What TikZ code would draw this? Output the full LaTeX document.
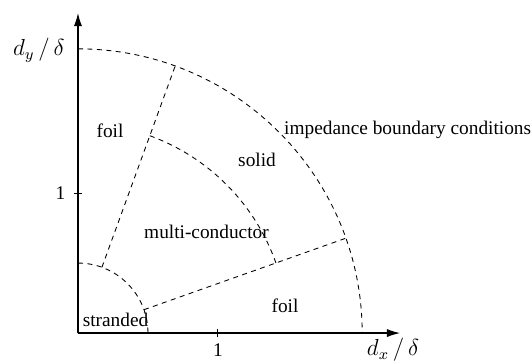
\documentclass[tikz,border=0pt]{standalone}
\usepackage{fontspec}
\setmainfont{Liberation Serif}
\usetikzlibrary{arrows.meta}

\begin{document}
\begin{tikzpicture}[
  x=2.545cm, y=2.545cm,
  axis/.style={-{Latex[length=2.4mm, width=1.5mm]}, line width=0.6pt},
  bound/.style={dash pattern=on 2.6pt off 2.3pt, line width=0.45pt},
  tick/.style={line width=0.5pt},
  lbl/.style={font=\normalsize, inner sep=0pt},
  axlbl/.style={font=\large, inner sep=0pt},
]
\useasboundingbox (-0.557,-0.193) rectangle (3.243,2.379);

\def\rOut{2.03}
\def\rMid{1.5}
\def\rIn{0.5}

% axes
\coordinate (O) at (0,0);
\coordinate (xend) at (2.3,0);
\coordinate (yend) at (0,2.286);
\draw[axis] (O) -- (xend);
\draw[axis] (O) -- (yend);

% ticks
\draw[tick] (1,-0.03) -- (1,0.03);
\draw[tick] (-0.03,1) -- (0.03,1);
\node[lbl] (xone) at (1,-0.12) {1};
\node[lbl] (yone) at (-0.125,1) {1};
\node[axlbl] (xlab) at (2.25,-0.12) {$d_x\,/\,\delta$};
\node[axlbl] (ylab) at (-0.28,2.02) {$d_y\,/\,\delta$};

% region boundaries
\coordinate (outA) at (90:\rOut);
\coordinate (midA) at (70:\rMid);
\coordinate (inA)  at (90:\rIn);
\draw[bound] (outA) arc[start angle=90, end angle=0, radius=\rOut];
\draw[bound] (midA) arc[start angle=70, end angle=19.5, radius=\rMid];
\draw[bound] (inA) arc[start angle=90, end angle=0, radius=\rIn];

\coordinate (upIn)  at (70:\rIn);
\coordinate (upOut) at (70:\rOut);
\coordinate (loIn)  at (19.5:\rIn);
\coordinate (loOut) at (19.5:\rOut);
\draw[bound] (upIn) -- (upOut);
\draw[bound] (loIn) -- (loOut);

% region labels
\node[lbl] (foilA) at (0.229,1.443) {foil};
\node[lbl] (solid) at (1.279,1.236) {solid};
\node[lbl, anchor=west] (ibc) at (1.47,1.45) {impedance boundary conditions};
\node[lbl] (multi) at (0.918,0.721) {multi-conductor};
\node[lbl] (foilB) at (1.479,0.193) {foil};
\node[lbl] (strand) at (0.268,0.093) {stranded};

\end{tikzpicture}
\end{document}
